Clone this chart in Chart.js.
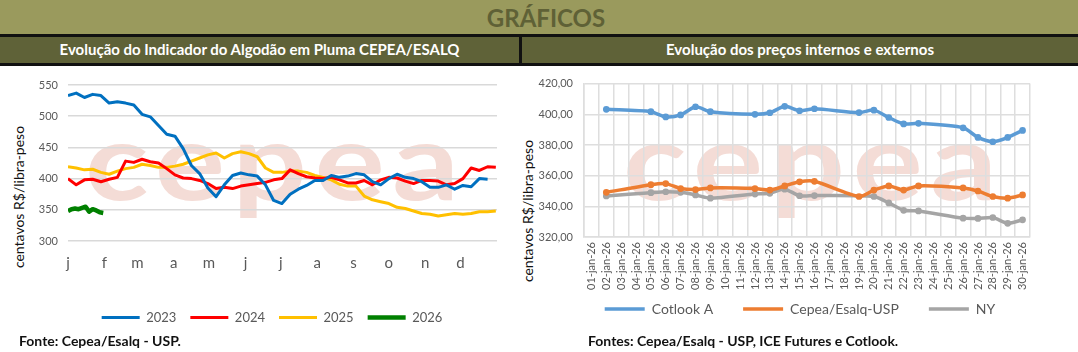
<!DOCTYPE html>
<html><head><meta charset="utf-8">
<script src="https://cdn.jsdelivr.net/npm/chart.js@4.4.1/dist/chart.umd.min.js"></script>
<style>
html,body{margin:0;padding:0;}
body{width:1078px;height:352px;position:relative;overflow:hidden;background:#fff;font-family:Lato,"Open Sans",sans-serif;}
.abs{position:absolute;}
#banner{left:0;top:0;width:1078px;height:34px;background:#9a9a5d;}
#gtitle{left:0;top:0;width:1092px;height:34px;line-height:36px;text-align:center;font-weight:bold;font-size:24px;color:#5f6136;}
.blk{background:#111;}
.hdr{top:37px;height:26px;background:#5f6238;color:#fff;font-weight:bold;font-size:15px;line-height:25px;text-align:center;}
.ytitle{font-size:14px;color:#111;white-space:nowrap;transform:translate(-50%,-50%) rotate(-90deg);}
.foot{font-size:14px;font-weight:bold;color:#111;white-space:nowrap;line-height:16px;}
.wm{font-size:108px;line-height:112px;font-weight:bold;color:#f4dcd6;letter-spacing:6px;white-space:nowrap;transform-origin:0 0;transform:scaleX(1.22);}
canvas{position:absolute;}
</style></head>
<body>
<div id="banner" class="abs"></div>
<div id="gtitle" class="abs">GRÁFICOS</div>
<div class="abs blk" style="left:0;top:34px;width:1078px;height:3px"></div>
<div class="abs hdr" style="left:0;width:519px">Evolução do Indicador do Algodão em Pluma CEPEA/ESALQ</div>
<div class="abs blk" style="left:519px;top:37px;width:3px;height:26px"></div>
<div class="abs hdr" style="left:522px;width:556px">Evolução dos preços internos e externos</div>
<div class="abs blk" style="left:0;top:63px;width:1078px;height:3px"></div>

<div class="abs wm" style="left:85px;top:102px">cepea</div>
<div class="abs wm" style="left:623px;top:102px">cepea</div>

<div class="abs ytitle" style="left:18px;top:197px">centavos R$/libra-peso</div>
<div class="abs ytitle" style="left:527px;top:211px">centavos R$/libra-peso</div>

<canvas id="c1" width="517" height="268" style="left:0;top:66px"></canvas>
<canvas id="c2" width="557" height="260" style="left:521px;top:66px"></canvas>

<div class="abs foot" style="left:19px;top:333px">Fonte: Cepea/Esalq - USP.</div>
<div class="abs foot" style="left:588px;top:333px">Fontes: Cepea/Esalq - USP, ICE Futures e Cotlook.</div>

<script>
// ---------- Left chart data ----------
const monthDays = [0,31,59,90,120,151,181,212,243,273,304,334];
const monthLabels = ['j','f','m','a','m','j','j','a','s','o','n','d'];
const weekDays = [0,7,14,21,28,35,42,49,56,63,70,77,84,91,98,105,112,119,126,133,140,147,154,161,168,175,182,189,196,203,210,217,224,231,238,245,252,259,266,273,280,287,294,301,308,315,322,329,336,343,350,357,364];
const v2023 = [533,537,530,535,533,521,523,521,518,503,499,485,471,468,448,421,408,385,371,390,405,409,406,404,390,365,360,375,383,389,397,397,405,402,404,408,406,395,390,400,407,402,400,395,386,386,390,383,389,387,400,399,null];
const v2024 = [400,390,398,399,395,399,402,428,426,431,427,425,416,406,401,400,397,392,384,386,384,388,390,392,394,398,400,414,408,403,401,400,402,398,393,393,397,390,398,402,401,396,392,397,397,396,390,392,400,417,413,419,418];
const v2025 = [419,417,414,415,410,407,412,416,418,423,421,418,418,420,423,428,433,438,441,433,440,443,440,435,417,410,410,412,412,410,405,402,398,391,388,388,372,366,363,360,354,352,348,344,343,340,342,344,343,344,347,347,348];
const days2026 = [0,3,6,9,12,15,18,21,24,27,30];
const v2026 = [348,351,352,351,353,355,347,351,349,346,345];
const yearNames = ['2023','2024','2025','2026'];

// ---------- Right chart data ----------
const dayLabels = ['01-jan-26','02-jan-26','03-jan-26','04-jan-26','05-jan-26','06-jan-26','07-jan-26','08-jan-26','09-jan-26','10-jan-26','11-jan-26','12-jan-26','13-jan-26','14-jan-26','15-jan-26','16-jan-26','17-jan-26','18-jan-26','19-jan-26','20-jan-26','21-jan-26','22-jan-26','23-jan-26','24-jan-26','25-jan-26','26-jan-26','27-jan-26','28-jan-26','29-jan-26','30-jan-26'];
const cotlook = [null,403.2,null,null,401.7,398.3,399.6,404.9,401.7,null,null,400.0,401.0,405.2,402.3,403.6,null,null,401.1,402.7,397.9,393.7,394.1,null,null,391.2,384.9,382.1,384.9,389.5];
const cepeaUsp = [null,349.1,null,null,354.1,354.8,351.6,350.9,352.0,null,null,351.6,350.6,353.3,356.0,356.3,null,null,346.4,350.6,353.3,350.6,353.3,null,null,352.0,350.0,346.4,345.3,347.4];
const ny = [null,346.8,null,null,348.9,349.5,349.1,347.4,345.3,null,null,348.0,348.5,351.2,346.9,347.0,null,null,null,346.4,342.2,337.4,337.0,null,null,332.3,332.1,332.7,328.9,331.2];
const seriesNames = ['Cotlook A','Cepea/Esalq-USP','NY'];

Chart.defaults.font.family = 'Lato';
Chart.defaults.color = '#595959';

// let tick labels draw outside the (deliberately narrow) axis boxes
const sized = (prop, val) => s => { s[prop] = val; s._computeLabelArea = () => undefined; };

const pts = (xs, ys) => xs.map((x, i) => ({x: x, y: ys[i]}));
const lineDs = (label, data, color, w) => ({label, data, borderColor: color, backgroundColor: color, borderWidth: w, pointRadius: 0, tension: 0, borderJoinStyle: 'round'});

new Chart(document.getElementById('c1'), {
  type: 'line',
  data: { datasets: [
    lineDs(yearNames[0], pts(weekDays, v2023), '#0070c0', 3),
    lineDs(yearNames[1], pts(weekDays, v2024), '#ff0000', 3),
    lineDs(yearNames[2], pts(weekDays, v2025), '#ffc000', 3),
    lineDs(yearNames[3], pts(days2026, v2026), '#008000', 4.5)
  ]},
  options: {
    responsive: false, animation: false,
    layout: { padding: { left: 47, right: 20, top: 19, bottom: 0 } },
    plugins: {
      tooltip: { enabled: false },
      legend: { position: 'bottom', labels: { usePointStyle: true, pointStyle: 'line', pointStyleWidth: 38, font: { size: 13 }, color: '#595959', padding: 14 } }
    },
    scales: {
      x: { type: 'linear', min: 0, max: 365,
        grid: { display: false }, border: { display: false },
        afterBuildTicks: s => { s.ticks = monthDays.map(v => ({ value: v })); },
        ticks: { callback: (v, i) => monthLabels[i], autoSkip: false, maxRotation: 0, font: { size: 15 }, color: '#595959', padding: 5 },
        afterFit: sized('height', 56) },
      y: { min: 300, max: 550,
        ticks: { stepSize: 50, font: { size: 11 }, color: '#595959', padding: 10 },
        grid: { color: '#d9d9d9', lineWidth: 1.5, drawTicks: false }, border: { display: false },
        afterFit: sized('width', 21) }
    }
  }
});

const tradingGap = (a, b) => { for (let i = a + 1; i < b; i++) { if (cotlook[i] != null) return true; } return false; };
const rds = (label, data, color, extra) => Object.assign({label, data, borderColor: color, backgroundColor: color, borderWidth: 3.5, pointRadius: 1.6, pointBorderWidth: 3.5, pointBackgroundColor: color, spanGaps: true, tension: 0.25}, extra || {});

new Chart(document.getElementById('c2'), {
  type: 'line',
  data: { labels: dayLabels, datasets: [
    rds(seriesNames[0], cotlook, '#5b9bd5'),
    rds(seriesNames[1], cepeaUsp, '#ed7d31'),
    rds(seriesNames[2], ny, '#a5a5a5', { segment: { borderColor: ctx => tradingGap(ctx.p0DataIndex, ctx.p1DataIndex) ? 'rgba(0,0,0,0)' : '#a5a5a5' } })
  ]},
  options: {
    responsive: false, animation: false,
    layout: { padding: { left: 49, right: 48, top: 12, bottom: 0 } },
    plugins: {
      tooltip: { enabled: false },
      legend: { position: 'bottom', labels: { usePointStyle: true, pointStyle: 'line', pointStyleWidth: 40, font: { size: 14 }, color: '#595959', padding: 30 } }
    },
    scales: {
      x: { offset: true,
        grid: { offset: true, color: '#dedede', lineWidth: 1.5, drawTicks: false }, border: { color: '#dedede', width: 1.5 },
        ticks: { autoSkip: false, minRotation: 90, maxRotation: 90, font: { size: 11 }, color: '#595959', padding: 5 },
        afterFit: sized('height', 35) },
      y: { min: 320, max: 420,
        ticks: { stepSize: 20, callback: v => v.toFixed(2).replace('.', ','), font: { size: 11 }, color: '#595959', padding: 11 },
        grid: { color: '#dedede', lineWidth: 1.5, drawTicks: false }, border: { color: '#dedede', width: 1.5 },
        afterFit: sized('width', 14) }
    }
  }
});
</script>
</body></html>
